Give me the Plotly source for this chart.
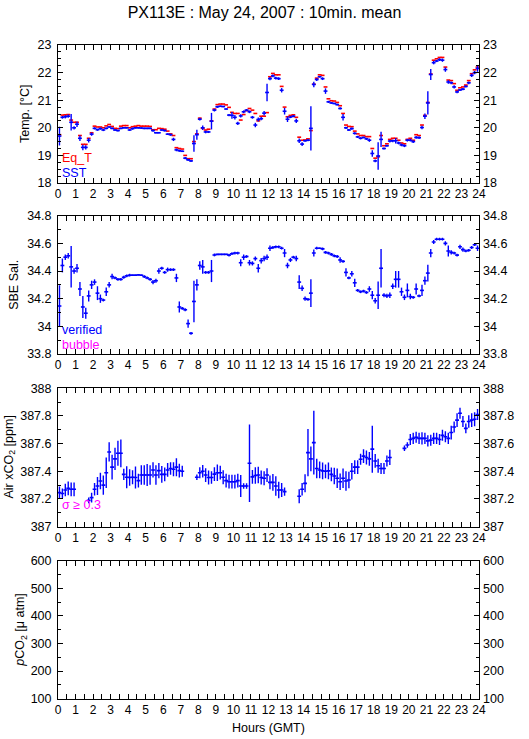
import plotly.graph_objects as go

# ---------------- data (10-min means, 144 slots) ----------------
hours = [(i + 0.5) / 6.0 for i in range(144)]

eq_t = [19.75, 20.46, 20.47, 20.48, 20.28, 20.20,
        20.20, 19.72, 19.40, 19.40, 19.62, 19.82,
        20.06, 20.03, 20.03, 20.00, 20.07, 20.12,
        20.05, 19.98, 19.97, 20.06, 20.08, 20.08,
        20.00, 20.04, 20.06, 20.08, 20.06, 20.06,
        20.06, 20.05, 19.93, 19.93, 19.98, 19.97,
        19.95, 19.88, 19.78, 19.72, 19.28, 19.25,
        19.23, 19.00, 18.88, 18.88, 19.50, 19.78,
        20.35, 19.98, 19.92, 19.95, 20.25, 20.68,
        20.84, 20.86, 20.86, 20.83, 20.74, 20.56,
        20.52, 20.52, 20.28, 20.48, 20.62, 20.70,
        20.64, 20.52, 20.25, 20.42, 20.42, 20.55,
        21.85, 21.97, 21.92, 21.92, 21.50, 20.75,
        20.40, 20.45, 20.47, 20.38, 19.66, 19.55,
        19.56, 19.60, 19.90, 21.58, 21.80, 21.92,
        21.90, 21.48, 21.05, 20.98, 20.97, 20.92,
        20.80, 20.52, 20.10, 20.05, 20.04, 19.88,
        19.78, 19.72, 19.72, 19.68, 19.68, 19.25,
        18.90, 18.95, 19.72, 19.35, 19.42, 19.58,
        19.62, 19.62, 19.55, 19.45, 19.42, 19.58,
        19.62, 19.55, 19.75, 19.72, 20.10, 20.45,
        20.92, 21.95, 22.45, 22.50, 22.55, 22.55,
        22.20, 21.73, 21.71, 21.60, 21.36, 21.45,
        21.48, 21.55, 21.71, 21.96, 22.10, 22.20]

sst = [19.70, 20.38, 20.40, 20.42, 20.20, 20.00,
       20.13, 19.62, 19.29, 19.29, 19.55, 19.77,
       19.98, 19.93, 19.97, 19.92, 19.98, 20.03,
       19.98, 19.92, 19.90, 19.98, 20.00, 20.00,
       19.92, 19.97, 20.00, 20.00, 19.99, 19.98,
       19.98, 19.98, 19.90, 19.82, 19.82, 19.92,
       19.90, 19.77, 19.75, 19.58, 19.20, 19.17,
       19.15, 18.90, 18.84, 18.80, 19.43, 19.75,
       20.31, 20.00, 19.85, 19.85, 20.24, 20.64,
       20.76, 20.78, 20.77, 20.68, 20.46, 20.45,
       20.38, 20.16, 20.43, 20.58, 20.64, 20.58,
       20.38, 20.10, 20.30, 20.33, 20.53, 21.28,
       21.78, 21.88, 21.80, 21.78, 21.36, 20.60,
       20.31, 20.39, 20.42, 20.25, 19.53, 19.41,
       19.53, 19.55, 19.98, 21.57, 21.75, 21.85,
       21.78, 21.33, 20.94, 20.90, 20.88, 20.84,
       20.70, 20.38, 20.00, 19.92, 19.97, 19.80,
       19.67, 19.62, 19.65, 19.60, 19.55, 19.07,
       18.80, 18.98, 19.58, 19.25, 19.35, 19.52,
       19.53, 19.53, 19.45, 19.38, 19.35, 19.55,
       19.55, 19.50, 19.65, 19.64, 20.01, 20.42,
       20.90, 21.93, 22.36, 22.42, 22.47, 22.45,
       22.11, 21.66, 21.63, 21.48, 21.30, 21.37,
       21.40, 21.50, 21.63, 21.90, 22.00, 22.15]

sst_sd = [0.34, 0.05, 0.06, 0.06, 0.30, 0.06,
          0.10, 0.10, 0.10, 0.08, 0.08, 0.06,
          0.04, 0.04, 0.04, 0.04, 0.03, 0.03,
          0.03, 0.04, 0.03, 0.03, 0.03, 0.03,
          0.03, 0.04, 0.03, 0.03, 0.03, 0.03,
          0.03, 0.03, 0.04, 0.03, 0.03, 0.03,
          0.03, 0.03, 0.04, 0.06, 0.05, 0.04,
          0.03, 0.04, 0.04, 0.04, 0.30, 0.18,
          0.05, 0.08, 0.05, 0.04, 0.30, 0.05,
          0.04, 0.03, 0.03, 0.03, 0.04, 0.12,
          0.08, 0.06, 0.06, 0.05, 0.04, 0.05,
          0.05, 0.08, 0.07, 0.06, 0.08, 0.32,
          0.06, 0.05, 0.05, 0.05, 0.08, 0.12,
          0.10, 0.04, 0.04, 0.08, 0.08, 0.07,
          0.04, 0.04, 0.80, 0.10, 0.05, 0.03,
          0.05, 0.10, 0.04, 0.03, 0.03, 0.03,
          0.04, 0.12, 0.04, 0.04, 0.04, 0.04,
          0.04, 0.04, 0.03, 0.04, 0.06, 0.12,
          0.05, 0.50, 0.28, 0.04, 0.04, 0.05,
          0.05, 0.10, 0.05, 0.05, 0.05, 0.05,
          0.05, 0.05, 0.05, 0.05, 0.06, 0.10,
          0.42, 0.20, 0.06, 0.04, 0.05, 0.06,
          0.08, 0.06, 0.05, 0.06, 0.05, 0.04,
          0.04, 0.04, 0.05, 0.06, 0.06, 0.12]

sal = [34.147, 34.44, 34.50, 34.51, 34.43, 34.40,
       34.42, 34.27, 34.14, 34.095, 34.22, 34.30,
       34.32, 34.24, 34.20, 34.19, 34.25, 34.30,
       34.36, 34.35, 34.34, 34.34, 34.355, 34.365,
       34.37, 34.37, 34.37, 34.372, 34.37, 34.36,
       34.35, 34.34, 34.32, 34.33, 34.40, 34.42,
       34.39, 34.41, 34.41, 34.41, 34.35, 34.14,
       34.13, 34.12, 34.02, 33.95, 34.18, 34.30,
       34.44, 34.43, 34.39, 34.39, 34.40, 34.516,
       34.52, 34.52, 34.52, 34.52, 34.515, 34.525,
       34.53, 34.53, 34.46, 34.50, 34.505, 34.46,
       34.455, 34.49, 34.42, 34.475, 34.49, 34.50,
       34.565, 34.57, 34.575, 34.575, 34.565, 34.53,
       34.44, 34.48, 34.50, 34.49, 34.32, 34.275,
       34.20, 34.195, 34.24, 34.53, 34.565, 34.565,
       34.56, 34.535, 34.53, 34.52, 34.51, 34.505,
       34.48, 34.47, 34.39, 34.35, 34.38, 34.315,
       34.26, 34.25, 34.255, 34.245, 34.27, 34.225,
       34.185, 34.225, 34.42, 34.225, 34.22, 34.225,
       34.29, 34.34, 34.34, 34.25, 34.21, 34.26,
       34.215, 34.21, 34.27, 34.22, 34.26, 34.33,
       34.385, 34.53, 34.61, 34.63, 34.63, 34.63,
       34.60, 34.545, 34.535, 34.53, 34.515, 34.575,
       34.555, 34.545, 34.55, 34.57, 34.59, 34.565]

sal_sd = [0.15, 0.05, 0.02, 0.02, 0.15, 0.02,
          0.03, 0.05, 0.08, 0.04, 0.04, 0.03,
          0.02, 0.05, 0.03, 0.01, 0.03, 0.02,
          0.02, 0.01, 0.01, 0.01, 0.01, 0.01,
          0.01, 0.005, 0.005, 0.005, 0.005, 0.01,
          0.01, 0.01, 0.015, 0.015, 0.02, 0.01,
          0.01, 0.015, 0.01, 0.01, 0.03, 0.04,
          0.01, 0.01, 0.03, 0.01, 0.15, 0.04,
          0.03, 0.05, 0.01, 0.01, 0.08, 0.01,
          0.005, 0.005, 0.005, 0.005, 0.01, 0.01,
          0.01, 0.01, 0.025, 0.02, 0.01, 0.02,
          0.015, 0.015, 0.03, 0.02, 0.02, 0.02,
          0.02, 0.01, 0.01, 0.01, 0.01, 0.03,
          0.02, 0.015, 0.01, 0.02, 0.05, 0.02,
          0.015, 0.01, 0.10, 0.025, 0.01, 0.005,
          0.01, 0.01, 0.01, 0.01, 0.01, 0.01,
          0.02, 0.01, 0.03, 0.01, 0.02, 0.03,
          0.01, 0.01, 0.01, 0.01, 0.02, 0.03,
          0.02, 0.10, 0.14, 0.015, 0.015, 0.02,
          0.02, 0.06, 0.06, 0.03, 0.02, 0.05,
          0.02, 0.01, 0.04, 0.01, 0.04, 0.03,
          0.06, 0.03, 0.015, 0.01, 0.01, 0.01,
          0.015, 0.04, 0.015, 0.01, 0.01, 0.015,
          0.015, 0.01, 0.01, 0.01, 0.01, 0.02]

co2 = [387.246, 387.24, 387.265, 387.277, 387.27, 387.27,
       None, None, None, None, 387.19, 387.21,
       387.27, 387.294, 387.33, 387.30, 387.39, 387.54,
       387.43, 387.49, 387.53, 387.53, 387.378, 387.357,
       387.355, 387.357, 387.355, 387.333, 387.373, 387.373,
       387.373, 387.373, 387.41, 387.373, 387.405, 387.378,
       387.378, 387.41, 387.42, 387.415, 387.43, 387.405,
       387.40, None, None, None, None, 387.357,
       387.39, 387.40, 387.373, 387.355, 387.355, 387.38,
       387.39, 387.39, 387.357, 387.333, 387.325, 387.325,
       387.325, 387.333, 387.294, 387.294, 387.294, 387.458,
       387.36, 387.37, 387.373, 387.355, 387.35, 387.373,
       387.32, 387.32, 387.294, 387.265, 387.265, 387.253,
       None, None, None, None, 387.22, 387.27,
       387.313, 387.535, 387.49, 387.607, 387.42, 387.41,
       387.403, 387.40, 387.403, 387.378, 387.366, 387.35,
       387.325, 387.35, 387.33, 387.337, 387.40, 387.43,
       387.43, 387.487, 387.51, 387.50, 387.49, 387.56,
       387.475, 387.44, 387.42, 387.42, 387.475, 387.50,
       None, None, None, None, 387.566, 387.59,
       387.63, 387.638, 387.646, 387.638, 387.638, 387.638,
       387.62, 387.625, 387.638, 387.638, 387.63, 387.66,
       387.65, 387.638, 387.68, 387.72, 387.77, 387.82,
       387.76, 387.71, 387.76, 387.77, 387.776, 387.81]

co2_sd = [0.045, 0.035, 0.045, 0.05, 0.05, 0.05,
          0, 0, 0, 0, 0.02, 0.035,
          0.045, 0.065, 0.06, 0.07, 0.11, 0.07,
          0.09, 0.08, 0.09, 0.10, 0.04, 0.08,
          0.06, 0.05, 0.08, 0.05, 0.07, 0.07,
          0.08, 0.07, 0.055, 0.07, 0.055, 0.06,
          0.05, 0.05, 0.045, 0.05, 0.065, 0.05,
          0.04, 0, 0, 0, 0, 0.02,
          0.04, 0.045, 0.05, 0.05, 0.045, 0.05,
          0.06, 0.05, 0.05, 0.05, 0.05, 0.05,
          0.05, 0.05, 0.08, 0.02, 0.02, 0.28,
          0.05, 0.06, 0.06, 0.05, 0.05, 0.05,
          0.05, 0.06, 0.07, 0.06, 0.05, 0.03,
          0, 0, 0, 0, 0.05, 0.045,
          0.065, 0.17, 0.09, 0.23, 0.07, 0.06,
          0.06, 0.05, 0.06, 0.05, 0.06, 0.07,
          0.06, 0.07, 0.07, 0.06, 0.06, 0.05,
          0.05, 0.04, 0.05, 0.05, 0.05, 0.17,
          0.05, 0.05, 0.04, 0.04, 0.04, 0.055,
          0, 0, 0, 0, 0.02, 0.02,
          0.04, 0.04, 0.04, 0.04, 0.045, 0.04,
          0.04, 0.04, 0.04, 0.04, 0.04, 0.04,
          0.04, 0.04, 0.05, 0.04, 0.05, 0.04,
          0.04, 0.035, 0.045, 0.05, 0.05, 0.04]

x_ticks = list(range(0, 25))
title_text = "PX113E : May 24, 2007 : 10min. mean"
x_title = "Hours (GMT)"
y_titles = ["Temp. [°C]", "SBE Sal.", "Air xCO<sub>2</sub> [ppm]", "<i>p</i>CO<sub>2</sub> [μ atm]"]

# ---------------- figure ----------------
BLUE = "#0000ff"
RED = "#ff0000"
MAG = "#ff00ff"
HALFW = 0.11
FONT = "Liberation Sans, Arial, Helvetica, sans-serif"

W, H = 529, 739
L, R, T, B = 58, 50, 45, 40
PW = W - L - R
PH = H - T - B

fig = go.Figure()


def bars(x, y, sd, color, xa, ya, vert=True):
    return go.Scatter(
        x=x, y=y, mode="markers", xaxis=xa, yaxis=ya,
        marker=dict(size=0.1, color="rgba(0,0,0,0)"),
        error_x=dict(type="constant", value=HALFW, width=0, thickness=1.6, color=color),
        error_y=dict(type="data", array=sd, width=0, thickness=1.4, color=color, visible=vert),
        showlegend=False, hoverinfo="skip",
    )


fig.add_trace(bars(hours, eq_t, [0] * 144, RED, "x", "y", vert=False))
fig.add_trace(bars(hours, sst, sst_sd, BLUE, "x", "y"))
fig.add_trace(bars(hours, sal, sal_sd, BLUE, "x2", "y2"))
fig.add_trace(bars(hours, co2, co2_sd, BLUE, "x3", "y3"))
fig.add_trace(go.Scatter(x=[None], y=[None], xaxis="x4", yaxis="y4", showlegend=False))
# dummy traces so the right-hand label axes are drawn
for i in range(4):
    fig.add_trace(go.Scatter(x=[None], y=[None], xaxis="x" + ("" if i == 0 else str(i + 1)),
                             yaxis="y" + str(i + 5), showlegend=False, hoverinfo="skip"))


def ypaper(px):
    return (T + PH - px) / PH


def xpaper(px):
    return (px - L) / PW


panels_px = [(45, 183), (215.7, 354), (388.3, 526.7), (560.7, 698.7)]
domains = [(ypaper(b), ypaper(t)) for t, b in panels_px]
yranges = [(18, 23), (33.8, 34.8), (387, 388), (100, 600)]
ydticks = [1, 0.2, 0.2, 100]
yminor = [0.25, 0.1, 0.1, 50]
ytitle_x = [25, 14, 9, 21]

tickfont = dict(family=FONT, size=12.5, color="black")
lay = {}
annos = []
for i in range(4):
    n = "" if i == 0 else str(i + 1)
    lay["xaxis" + n] = dict(
        domain=[0, 1], anchor="y" + n, range=[0, 24], tickmode="array",
        tickvals=x_ticks, ticktext=[str(v) for v in x_ticks],
        ticks="inside", ticklen=5, tickwidth=1, tickcolor="black",
        minor=dict(dtick=0.5, tick0=0, ticks="inside", ticklen=3, tickcolor="black"),
        showline=True, linecolor="black", linewidth=1, mirror="allticks",
        showgrid=False, zeroline=False, automargin=False,
        tickfont=dict(family=FONT, size=12, color="black"),
    )
    lay["yaxis" + n] = dict(
        domain=[round(domains[i][0], 4), round(domains[i][1], 4)], anchor="x" + n,
        range=list(yranges[i]), dtick=ydticks[i], tick0=yranges[i][0],
        ticks="inside", ticklen=5, tickwidth=1, tickcolor="black",
        minor=dict(dtick=yminor[i], ticks="inside", ticklen=3, tickcolor="black"),
        showline=True, linecolor="black", linewidth=1, mirror="allticks",
        showgrid=False, zeroline=False, automargin=False, tickfont=tickfont, ticklabelstandoff=3,
    )
    lay["yaxis" + str(i + 5)] = dict(
        overlaying="y" + n, side="right", anchor="x" + n, range=list(yranges[i]),
        dtick=ydticks[i], tick0=yranges[i][0], ticks="", showline=False,
        showgrid=False, zeroline=False, automargin=False, tickfont=tickfont, ticklabelstandoff=3,
    )
    annos.append(dict(
        text=y_titles[i], textangle=-90, xref="paper", yref="paper",
        x=xpaper(ytitle_x[i]), y=(domains[i][0] + domains[i][1]) / 2,
        xanchor="center", yanchor="middle", showarrow=False,
        font=dict(family=FONT, size=12.5, color="black"),
    ))

annos.append(dict(text=x_title, xref="paper", yref="paper", x=0.5, y=ypaper(728),
                  xanchor="center", yanchor="middle", showarrow=False,
                  font=dict(family=FONT, size=12.5, color="black")))


def legend_text(txt, color, ypx):
    return dict(text=txt, xref="paper", yref="paper", x=xpaper(60), y=ypaper(ypx),
                xanchor="left", yanchor="middle", showarrow=False,
                font=dict(family=FONT, size=12.5, color=color))


annos += [
    legend_text("Eq_T", RED, 158),
    legend_text("SST", BLUE, 172.5),
    legend_text("verified", BLUE, 330),
    legend_text("bubble", MAG, 344.5),
    legend_text("σ ≥ 0.3", MAG, 505),
]

fig.update_layout(**lay)
fig.update_layout(
    width=W, height=H,
    margin=dict(l=L, r=R, t=T, b=B, pad=0, autoexpand=False),
    paper_bgcolor="white", plot_bgcolor="white",
    title=dict(text=title_text, x=0.5, xanchor="center", y=1 - 12 / H, yanchor="middle",
               font=dict(family=FONT, size=16, color="black")),
    showlegend=False,
    annotations=annos,
)

fig.write_html("out.html", post_script="document.body.style.margin='0';",
               config={"displayModeBar": False})
